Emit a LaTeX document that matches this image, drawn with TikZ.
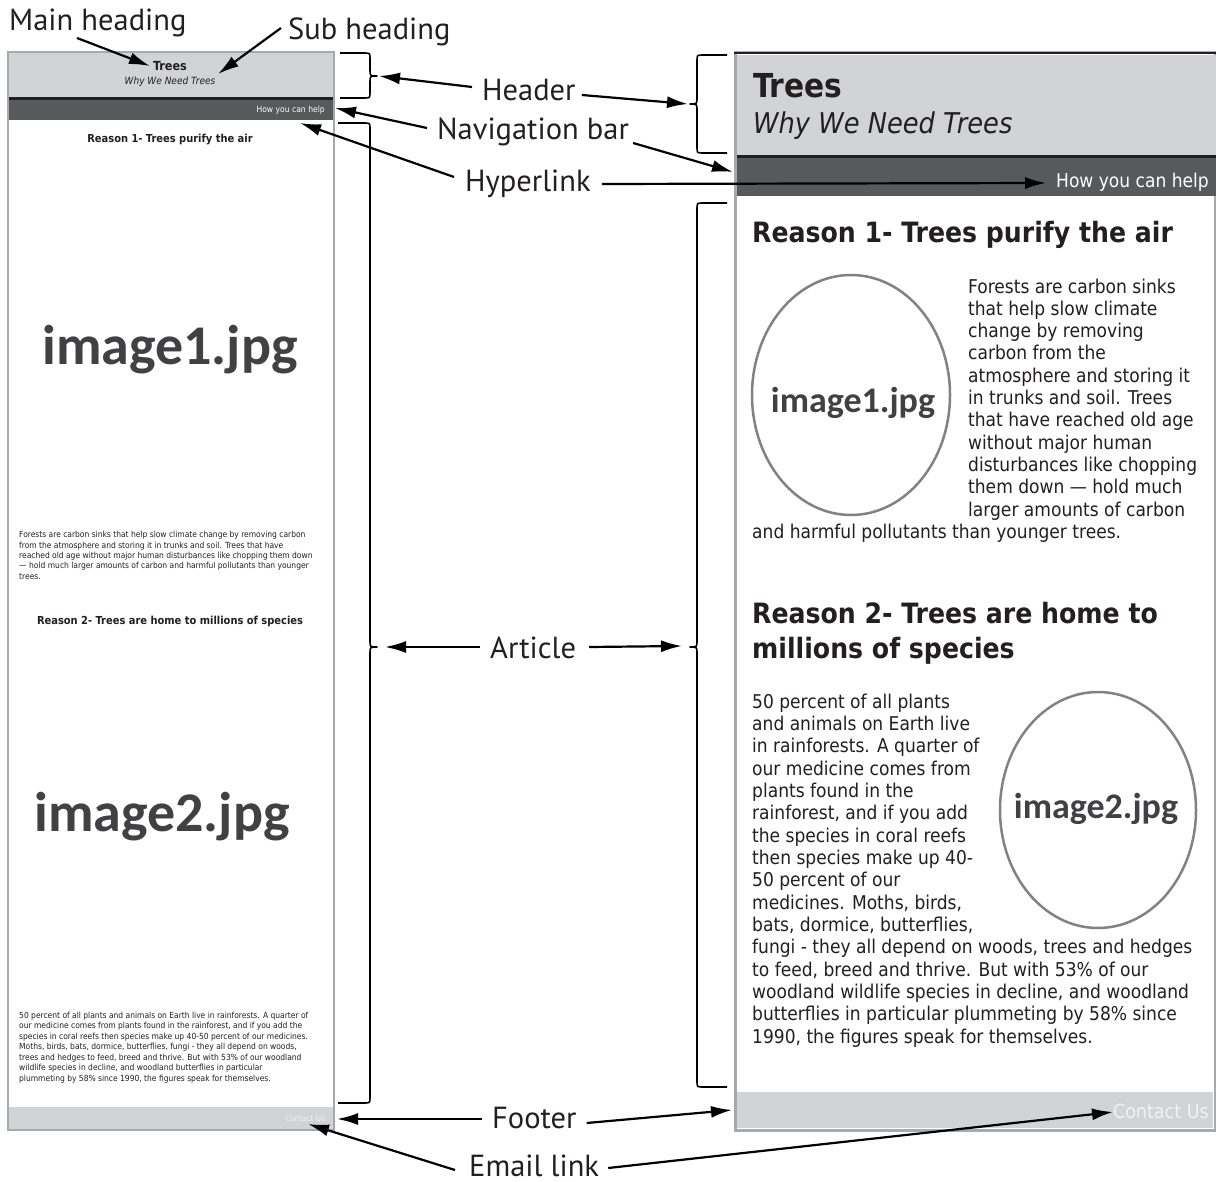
\documentclass[tikz,border=0pt]{standalone}
\usepackage{fontspec}
\setmainfont{PT Sans}
\newfontfamily\webfont{DejaVu Sans Condensed}
\newfontfamily\imgfont{Carlito}
\usetikzlibrary{arrows.meta,shapes.geometric}

\definecolor{hdrgray}{HTML}{D1D3D4}
\definecolor{navgray}{HTML}{58595B}
\definecolor{rimgray}{HTML}{A7A9AC}
\definecolor{inkdark}{HTML}{231F20}
\definecolor{imggray}{HTML}{414042}
\definecolor{ovalgray}{HTML}{808285}
\definecolor{linkwhite}{HTML}{F1F2F2}

\tikzset{
  callout/.style={line width=2.2pt, -{Latex[length=21pt,width=12pt]}},
  brc/.style={line width=1.6pt, line join=round},
  lbl/.style={font=\fontsize{30.5}{30.5}\selectfont, text=inkdark, inner sep=1pt, anchor=base west},
  webrg/.style={font=\webfont\fontsize{#1}{#1}\selectfont, text=inkdark, inner sep=0pt},
  webbf/.style={font=\webfont\bfseries\fontsize{#1}{#1}\selectfont, text=inkdark, inner sep=0pt},
  webit/.style={font=\webfont\itshape\fontsize{#1}{#1}\selectfont, text=inkdark, inner sep=0pt},
  % anchor sits on the baseline of the LAST line
  bodytext/.style n args={2}{font=\webfont\fontsize{#1}{#2}\selectfont, text=inkdark, inner sep=0pt, align=left, anchor=base west},
  imgname/.style={font=\imgfont\bfseries\fontsize{#1}{#1}\selectfont, text=imggray, inner sep=0pt},
  oval/.style={ellipse, draw=ovalgray, line width=2.5pt, inner sep=0pt},
}

\begin{document}
\begin{tikzpicture}[x=1pt,y=-1pt]
\useasboundingbox (0,0) rectangle (1216,1182);

% narrow page
\draw[rimgray, line width=2pt, fill=white] (8,52) rectangle (334,1130);
\fill[hdrgray] (9,53) rectangle (333,97);
\fill[inkdark] (9,97) rectangle (333,100);
\fill[navgray] (9,100) rectangle (333,120);
\fill[hdrgray] (9,1107) rectangle (333,1129);

\node[webbf=12.5, anchor=base] (treesL) at (170,71) {Trees};
\node[webit=10, anchor=base] (whyL) at (170,85) {Why We Need Trees};
\node[webrg=8.5, text=white, anchor=base east] (helpL) at (325,113) {How you can help};
\node[webbf=11, anchor=base] (reason1L) at (170,143) {Reason 1- Trees purify the air};
\node[imgname=56, anchor=base] (img1L) at (170,365) {image1.jpg};
\node[bodytext={8.4}{10.3}] (par1L) at (19,579) {Forests are carbon sinks that help slow climate change by removing carbon\\
from the atmosphere and storing it in trunks and soil. Trees that have\\
reached old age without major human disturbances like chopping them down\\
— hold much larger amounts of carbon and harmful pollutants than younger\\
trees.};
\node[webbf=11, anchor=base] (reason2L) at (170,624) {Reason 2- Trees are home to millions of species};
\node[imgname=56, anchor=base] (img2L) at (162,831) {image2.jpg};
\node[bodytext={8.4}{10.5}] (par2L) at (19,1081) {50 percent of all plants and animals on Earth live in rainforests. A quarter of\\
our medicine comes from plants found in the rainforest, and if you add the\\
species in coral reefs then species make up 40-50 percent of our medicines.\\
Moths, birds, bats, dormice, butterflies, fungi - they all depend on woods,\\
trees and hedges to feed, breed and thrive. But with 53\% of our woodland\\
wildlife species in decline, and woodland butterflies in particular\\
plummeting by 58\% since 1990, the figures speak for themselves.};
\node[webrg=8, text=linkwhite, anchor=base east] (contactL) at (325,1121) {Contact Us};

% wide page
\draw[rimgray, line width=3pt, fill=white] (735,53) rectangle (1215,1130);
\fill[hdrgray] (737,55) rectangle (1216,155);
\draw[inkdark, line width=2pt] (734,53) -- (1216,53);
\fill[inkdark] (737,155) rectangle (1216,158);
\fill[navgray] (737,158) rectangle (1216,196);
\fill[hdrgray] (737,1092) rectangle (1213,1128);

\node[webbf=33, anchor=base west] (treesR) at (753,98) {Trees};
\node[webit=28.6, anchor=base west] (whyR) at (753,134) {Why We Need Trees};
\node[webrg=19, text=white, anchor=base east] (helpR) at (1209,188) {How you can help};
\node[webbf=28, anchor=base west] (reason1R) at (752,243) {Reason 1- Trees purify the air};
\node[oval, minimum width=198pt, minimum height=240pt] (oval1) at (851,395) {};
\node[imgname=36, anchor=base] (img1R) at (853,413) {image1.jpg};
\node[bodytext={19}{22.3}] (par1R) at (968,516) {Forests are carbon sinks\\
that help slow climate\\
change by removing\\
carbon from the\\
atmosphere and storing it\\
in trunks and soil. Trees\\
that have reached old age\\
without major human\\
disturbances like chopping\\
them down — hold much\\
larger amounts of carbon};
\node[bodytext={19}{22.3}] (par1Rend) at (752,538) {and harmful pollutants than younger trees.};
\node[bodytext={28}{35}, font=\webfont\bfseries\fontsize{28}{35}\selectfont] (reason2R) at (752,658) {Reason 2- Trees are home to\\millions of species};
\node[oval, minimum width=196pt, minimum height=236pt] (oval2) at (1098,810) {};
\node[imgname=36, anchor=base] (img2R) at (1096,818) {image2.jpg};
\node[bodytext={19}{22.33}] (par2R) at (752,1043) {50 percent of all plants\\
and animals on Earth live\\
in rainforests. A quarter of\\
our medicine comes from\\
plants found in the\\
rainforest, and if you add\\
the species in coral reefs\\
then species make up 40-\\
50 percent of our\\
medicines. Moths, birds,\\
bats, dormice, butterflies,\\
fungi - they all depend on woods, trees and hedges\\
to feed, breed and thrive. But with 53\% of our\\
woodland wildlife species in decline, and woodland\\
butterflies in particular plummeting by 58\% since\\
1990, the figures speak for themselves.};
\node[webrg=19.5, text=linkwhite, anchor=base east] (contactR) at (1209,1118) {Contact Us};

% braces
\draw[brc] (340,53) -- (364,53) .. controls (370,53) .. (370,59) -- (370,70) .. controls (370,76) .. (377,76)
  .. controls (370,76) .. (370,82) -- (370,92) .. controls (370,98) .. (364,98) -- (340,98);
\draw[brc] (338,123) -- (364,123) .. controls (370,123) .. (370,129) -- (370,641) .. controls (370,647) .. (377,647)
  .. controls (370,647) .. (370,653) -- (370,1097) .. controls (370,1103) .. (364,1103) -- (338,1103);
\draw[brc] (727,55) -- (703,55) .. controls (697,55) .. (697,61) -- (697,98) .. controls (697,104) .. (690,104)
  .. controls (697,104) .. (697,110) -- (697,147) .. controls (697,153) .. (703,153) -- (727,153);
\draw[brc] (727,203) -- (703,203) .. controls (697,203) .. (697,209) -- (697,641) .. controls (697,647) .. (690,647)
  .. controls (697,647) .. (697,653) -- (697,1081) .. controls (697,1087) .. (703,1087) -- (727,1087);

% labels
\node[lbl] (hmain) at (8,31) {Main heading};
\node[lbl] (hsub) at (287,40) {Sub heading};
\node[lbl] (hheader) at (481,101) {Header};
\node[lbl] (hnav) at (436,140) {Navigation bar};
\node[lbl] (hlink) at (464,192) {Hyperlink};
\node[lbl] (harticle) at (489,658) {Article};
\node[lbl] (hfooter) at (491,1128) {Footer};
\node[lbl] (hemail) at (468,1176) {Email link};

\coordinate (tMain) at (150,66);
\coordinate (tSub) at (218,74);
\coordinate (tHeadL) at (379,76);
\coordinate (tHeadR) at (688,104);
\coordinate (tNavL) at (335,108);
\coordinate (tNavR) at (733,172);
\coordinate (tLinkL) at (300,123);
\coordinate (tLinkR) at (1046,183);
\coordinate (tArtL) at (385,647);
\coordinate (tArtR) at (682,646);
\coordinate (tFootL) at (337,1119);
\coordinate (tFootR) at (732,1110);
\coordinate (tMailL) at (308,1124);
\coordinate (tMailR) at (1113,1112);

\draw[callout] ([shift={(69pt,-7pt)}]hmain.base west) -- (tMain);
\draw[callout] ([shift={(-6pt,12pt)}]hsub.base west) -- (tSub);
\draw[callout] ([shift={(-9pt,14pt)}]hheader.base west) -- (tHeadL);
\draw[callout] ([shift={(5pt,6pt)}]hheader.base east) -- (tHeadR);
\draw[callout] ([shift={(-9pt,12pt)}]hnav.base west) -- (tNavL);
\draw[callout] ([shift={(3pt,-3pt)}]hnav.base east) -- (tNavR);
\draw[callout] ([shift={(-10pt,15pt)}]hlink.base west) -- (tLinkL);
\draw[callout] ([shift={(10pt,8pt)}]hlink.base east) -- (tLinkR);
\draw[callout] ([shift={(-9pt,11pt)}]harticle.base west) -- (tArtL);
\draw[callout] ([shift={(12pt,11pt)}]harticle.base east) -- (tArtR);
\draw[callout] ([shift={(-9pt,9pt)}]hfooter.base west) -- (tFootL);
\draw[callout] ([shift={(9pt,5pt)}]hfooter.base east) -- (tFootR);
\draw[callout] ([shift={(-13pt,6pt)}]hemail.base west) -- (tMailL);
\draw[callout] ([shift={(8pt,8pt)}]hemail.base east) -- (tMailR);
\end{tikzpicture}
\end{document}
